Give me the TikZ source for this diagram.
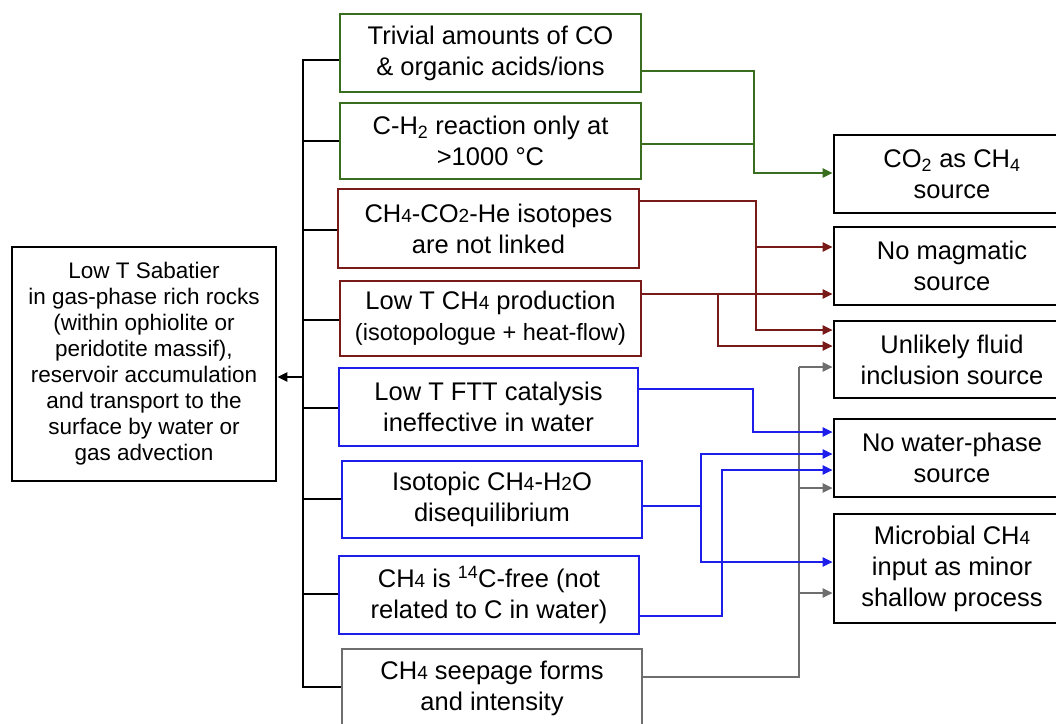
\documentclass[tikz,border=0pt]{standalone}
\usepackage{fontspec}
\setmainfont{Liberation Sans}
\usetikzlibrary{arrows.meta}
\definecolor{cgreen}{RGB}{56,110,30}
\definecolor{cbrown}{RGB}{120,26,24}
\definecolor{cblue}{RGB}{30,30,235}
\definecolor{cgray}{RGB}{110,110,110}
\newcommand{\smd}[1]{{\fontsize{19}{19}\selectfont #1}}
\begin{document}
\begin{tikzpicture}[x=1pt,y=-1pt,
  box/.style={draw, line width=2.6pt, inner sep=0pt, align=center, text=black,
    font=\fontsize{25.5}{31}\selectfont},
  mbox/.style={box, minimum width=301pt, minimum height=78pt},
  rbox/.style={box, draw=black, minimum width=236pt, minimum height=78pt},
  conn/.style={line width=2.3pt},
  arr/.style={conn, -{Triangle[length=10pt,width=9pt]}}]
\path[use as bounding box] (0,0) rectangle (1056,723);
\clip (0,0) rectangle (1056,723);

% left box
\node[box, minimum width=264pt, minimum height=234pt,
  font=\fontsize{22.5}{26}\selectfont] (L) at (144,364)
  {Low T Sabatier\\in gas-phase rich rocks\\(within ophiolite or\\peridotite massif),\\reservoir accumulation\\and transport to the\\surface by water or\\gas advection};

% middle boxes
\node[mbox, draw=cgreen] (b1) at (490.5,53) {Trivial amounts of CO\\\& organic acids/ions};
\node[mbox, draw=cgreen, minimum height=76pt] (b2) at (490.5,141) {C-H\textsubscript{2} reaction only at\\>1000 °C};
\node[mbox, draw=cbrown, minimum height=79pt] (b3) at (488.5,228.5) {CH\smd{4}-CO\smd{2}-He isotopes\\are not linked};
\node[mbox, draw=cbrown, minimum height=75pt] (b4) at (490.5,318.5) {Low T CH\smd{4} production\\{\fontsize{23.5}{30}\selectfont (isotopologue + heat-flow)}};
\node[mbox, draw=cblue, minimum width=299pt] (b5) at (488.5,407) {Low T FTT catalysis\\ineffective in water};
\node[mbox, draw=cblue, minimum width=300pt, minimum height=77pt] (b6) at (492,499.5) {Isotopic CH\smd{4}-H\smd{2}O\\disequilibrium};
\node[mbox, draw=cblue, minimum width=300pt] (b7) at (489,595) {CH\smd{4} is \textsuperscript{14}C-free (not\\related to C in water)};
\node[mbox, draw=cgray, minimum width=300pt] (b8) at (492,688) {CH\smd{4} seepage forms\\and intensity};

% right boxes
\node[rbox] (r1) at (952,174) {CO\textsubscript{2} as CH\textsubscript{4}\\source};
\node[rbox] (r2) at (952,266) {No magmatic\\source};
\node[rbox, minimum height=77pt] (r3) at (952,359.5) {Unlikely fluid\\inclusion source};
\node[rbox] (r4) at (952,458) {No water-phase\\source};
\node[rbox, minimum height=109pt] (r5) at (952,568.5) {Microbial CH\smd{4}\\input as minor\\shallow process};

% left bracket
\draw[conn] (b1.west |- 0,60) -- (303,60) -- (303,687) -- (b8.west |- 0,687);
\foreach \n/\y in {b2/141, b3/230, b4/320, b5/408, b6/499, b7/594}
  \draw[conn] (303,\y) -- (\n.west |- 0,\y);
\draw[arr] (303,377) -- (L.east |- 0,377);

% gray
\draw[conn, cgray] (b8.east |- 0,677) -- (799,677) -- (799,367);
\draw[arr, cgray] (799,367) -- (r3.west |- 0,367);
\draw[arr, cgray] (799,488) -- (r4.west |- 0,488);
\draw[arr, cgray] (799,593) -- (r5.west |- 0,593);

% green
\draw[arr, cgreen] (b1.east |- 0,71) -- (754,71) -- (754,173) -- (r1.west |- 0,173);
\draw[conn, cgreen] (b2.east |- 0,144) -- (754,144);

% brown
\draw[arr, cbrown] (b3.east |- 0,201) -- (756,201) -- (756,330) -- (r3.west |- 0,330);
\draw[arr, cbrown] (756,247) -- (r2.west |- 0,247);
\draw[arr, cbrown] (b4.east |- 0,294) -- (r2.west |- 0,294);
\draw[arr, cbrown] (718,294) -- (718,346) -- (r3.west |- 0,346);

% blue
\draw[arr, cblue] (b5.east |- 0,389) -- (753,389) -- (753,432) -- (r4.west |- 0,432);
\draw[conn, cblue] (b6.east |- 0,506) -- (701,506);
\draw[arr, cblue] (701,506) -- (701,454) -- (r4.west |- 0,454);
\draw[arr, cblue] (701,506) -- (701,562) -- (r5.west |- 0,562);
\draw[arr, cblue] (b7.east |- 0,616) -- (722,616) -- (722,470) -- (r4.west |- 0,470);
\end{tikzpicture}
\end{document}
